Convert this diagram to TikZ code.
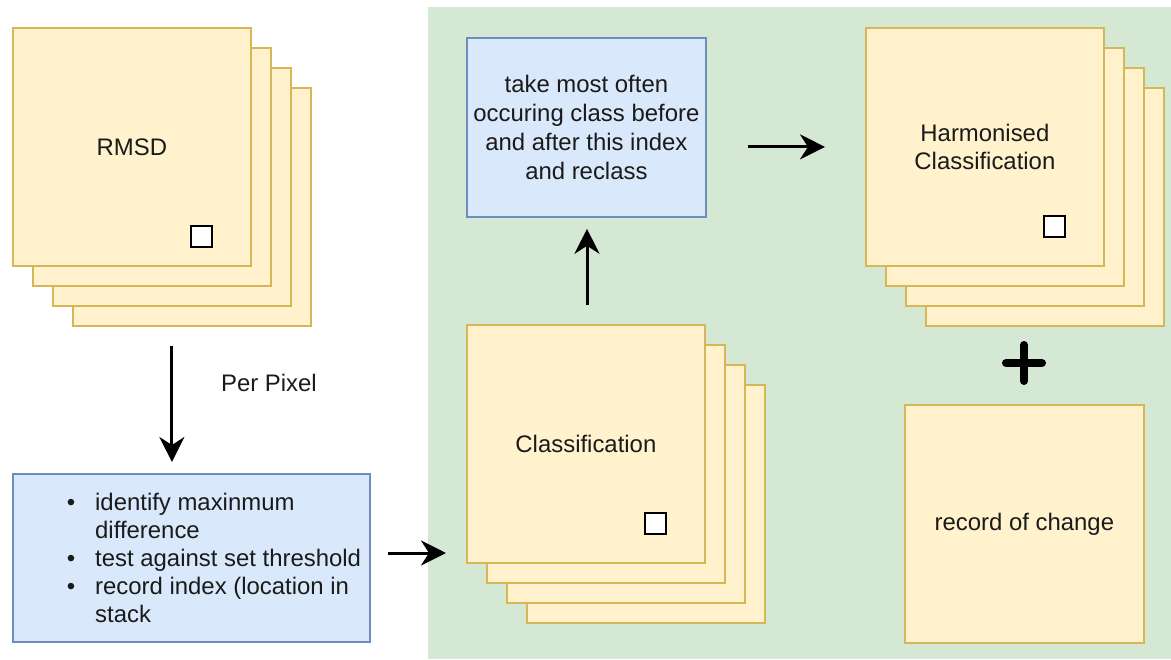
\documentclass[tikz,border=0pt]{standalone}
\usepackage{fontspec}
\setmainfont{Liberation Sans}
\usetikzlibrary{arrows.meta}
\definecolor{bggreen}{HTML}{D5E8D4}
\definecolor{yfill}{HTML}{FFF2CC}
\definecolor{ydraw}{HTML}{D6B656}
\definecolor{bfill}{HTML}{DAE8FC}
\definecolor{bdraw}{HTML}{6C8EBF}
\definecolor{txtc}{HTML}{1A1A1A}
\tikzset{
  layer/.style={draw=ydraw, fill=yfill, line width=1.8bp, anchor=north west, inner sep=0pt,
    minimum width=238bp, minimum height=238bp, font=\fontsize{24}{29}\selectfont, align=center, text=txtc},
  bluebox/.style={draw=bdraw, fill=bfill, line width=1.8bp, anchor=north west, inner sep=0pt},
  pixsq/.style={draw=black, fill=white, line width=1.6bp, anchor=north west, inner sep=0pt,
    minimum width=21bp, minimum height=21bp},
  txt/.style={font=\fontsize{24}{28}\selectfont, inner sep=0pt, text=txtc},
  arr/.style={line width=3bp, -{Stealth[length=25bp, width=25bp, inset=8bp]}}
}
\begin{document}
\begin{tikzpicture}[x=1bp, y=-1bp]
\useasboundingbox (0,0) rectangle (1171,660);
% green background
\fill[bggreen] (428,7) rectangle (1171,659);

% RMSD stack
\node[layer] (r4) at (72,87) {};
\node[layer] (r3) at (52,67) {};
\node[layer] (r2) at (32,47) {};
\node[layer] (r1) at (12,27) {RMSD};
\node[pixsq] (rp) at (190,225) {};

% list box
\node[bluebox, minimum width=357bp, minimum height=168bp] (list) at (12,473) {};
\node[txt, anchor=north west, align=left] (listtxt) at (95,493)
  {\llap{\textbullet\hspace{20bp}}identify maxinmum\\difference\\
   \llap{\textbullet\hspace{20bp}}test against set threshold\\
   \llap{\textbullet\hspace{20bp}}record index (location in\\stack};

\node[txt] (pp) at (269,383) {Per Pixel};

% Classification stack
\node[layer] (c4) at (526,384) {};
\node[layer] (c3) at (506,364) {};
\node[layer] (c2) at (486,344) {};
\node[layer] (c1) at (466,324) {Classification};
\node[pixsq] (cp) at (644,512) {};

% take most often box
\node[bluebox, minimum width=239bp, minimum height=179bp, font=\fontsize{24}{29}\selectfont, align=center, text=txtc] (take) at (466,37)
  {take most often\\occuring class before\\and after this index\\and reclass};

% Harmonised stack
\node[layer] (h4) at (925,87) {};
\node[layer] (h3) at (905,67) {};
\node[layer] (h2) at (885,47) {};
\node[layer] (h1) at (865,27) {Harmonised\\Classification};
\node[pixsq] (hp) at (1043,215) {};

% plus
\coordinate (plus) at (1024,363);
\draw[line width=8bp, line cap=round] ([xshift=-18bp]plus) -- ([xshift=18bp]plus);
\draw[line width=8bp, line cap=round] ([yshift=-18bp]plus) -- ([yshift=18bp]plus);

% record of change
\node[layer, minimum width=239bp] (rec) at (904,404) {record of change};

% arrows
\draw[arr] ([yshift=-19bp]r4.south -| r3.south) -- ([yshift=11bp]list.north -| r3.south);
\draw[arr] ([xshift=17bp]list.east |- 0,553) -- ([xshift=-20bp]c1.west |- 0,553);
\draw[arr] ([yshift=19bp]c1.north -| 587,0) -- ([yshift=-11bp]take.south -| 587,0);
\draw[arr] ([xshift=41bp]take.east |- h1.west) -- ([xshift=-40bp]h1.west);
\end{tikzpicture}
\end{document}
